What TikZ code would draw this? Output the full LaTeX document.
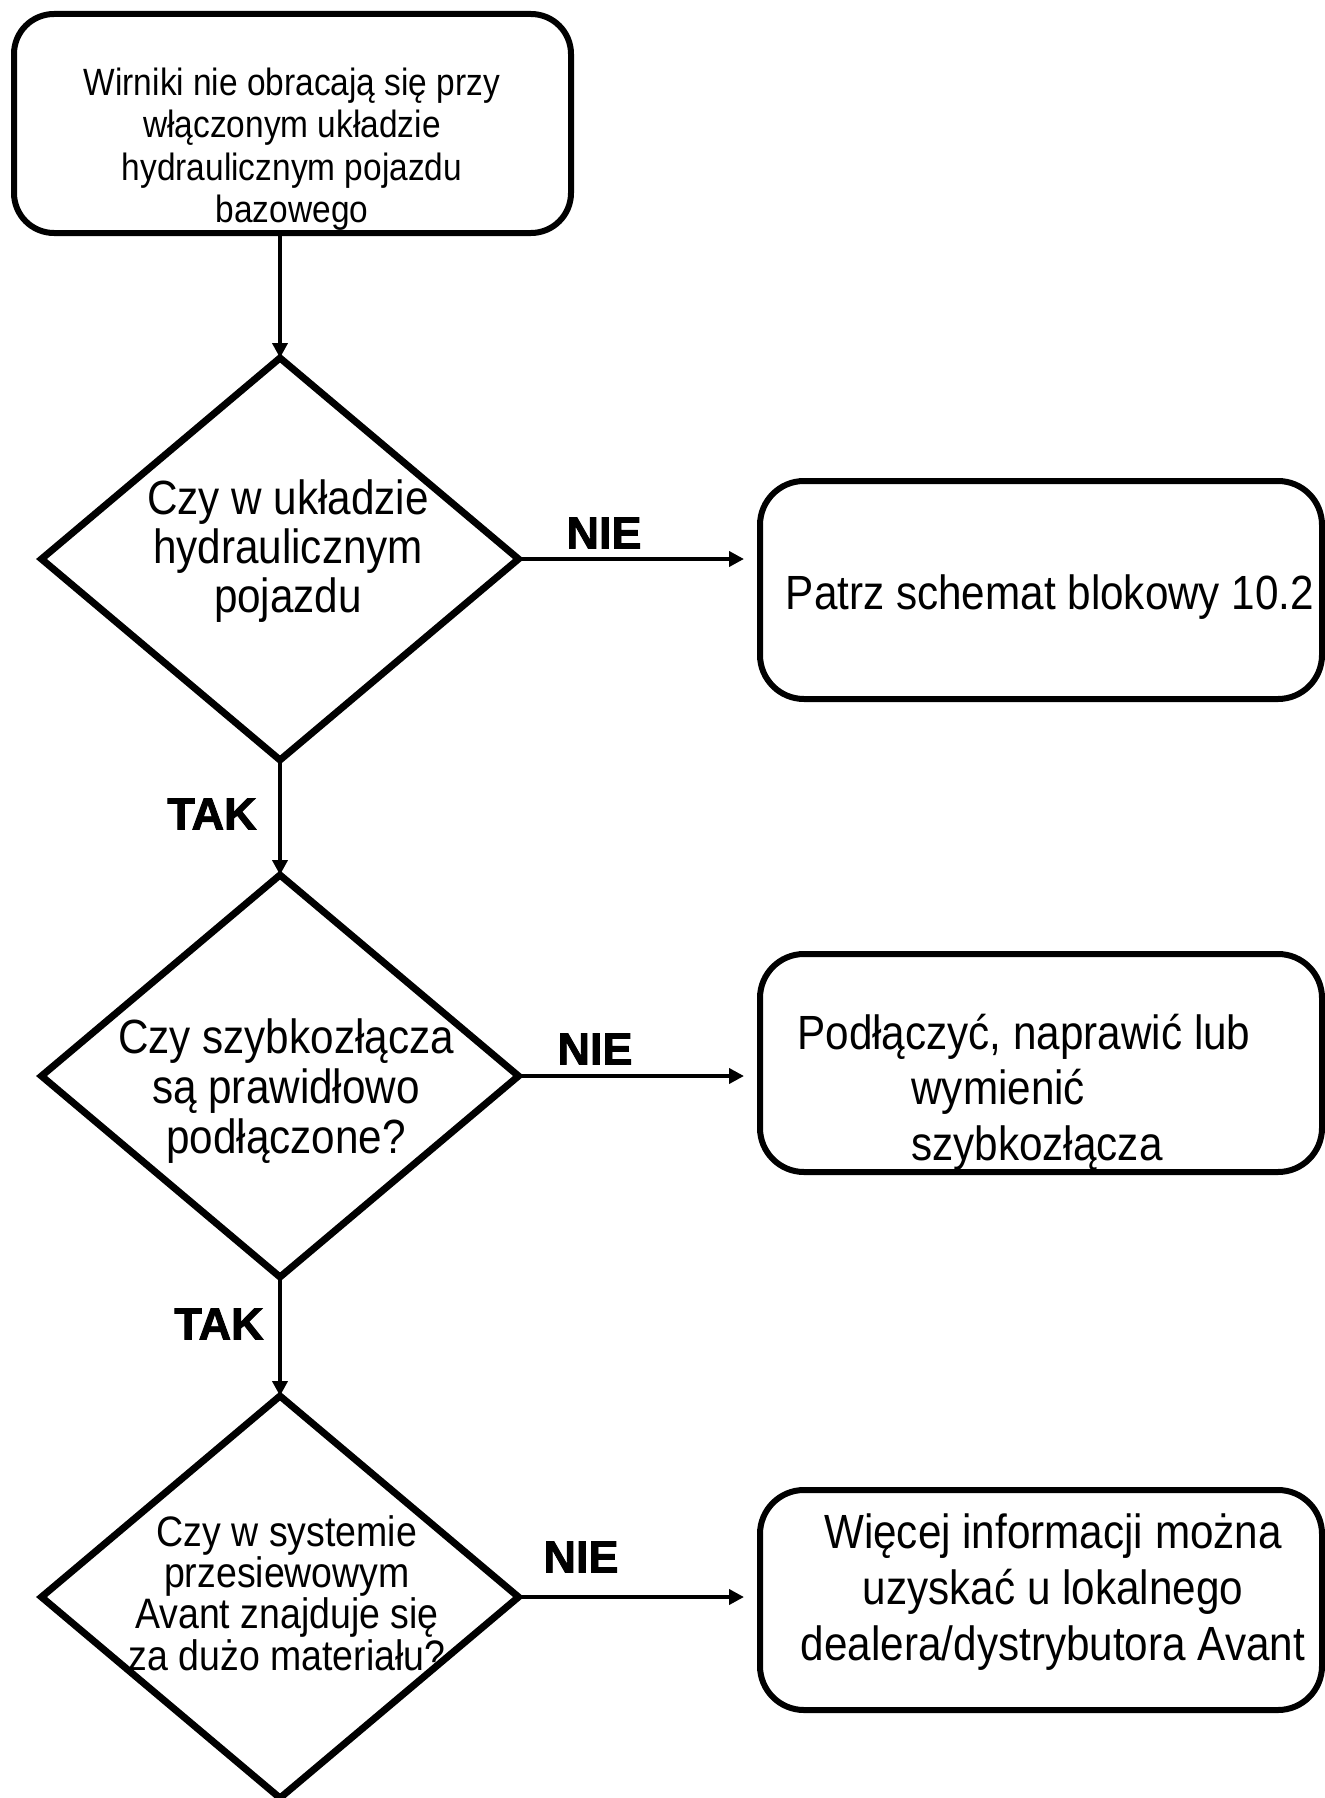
\documentclass[tikz,border=0pt]{standalone}
\usepackage{fontspec}
\setmainfont{Liberation Sans}[FakeStretch=0.88]
\newfontfamily\answerfont{Liberation Sans}[FakeBold=2]
\usetikzlibrary{shapes.geometric,arrows.meta}

\begin{document}
\begin{tikzpicture}[x=0.5pt,y=-0.5pt,
  box/.style={draw, line width=3pt, rectangle, rounded corners=22pt,
    inner sep=0pt, outer sep=0pt, minimum width=281pt, minimum height=109pt},
  decision/.style={draw, line width=3.5pt, diamond, inner sep=0pt, outer sep=0pt,
    minimum width=238.5pt, minimum height=201pt},
  txt/.style={inner sep=0pt, align=center},
  answer/.style={inner sep=0pt, font=\answerfont\bfseries\fontsize{22.5}{24}\selectfont},
  arr/.style={line width=2pt, -{Triangle[length=7.5pt,width=7.5pt]}}
]
\useasboundingbox (0,0) rectangle (1324,1798);
\fill[white] (0,0) rectangle (1324,1798);

% start box
\node[box, rounded corners=20pt, minimum width=278.5pt, minimum height=109.5pt] (start) at (292.5,123.5) {};
\node[txt, font=\fontsize{19}{21.2}\selectfont] (tstart) at (292,149)
  {Wirniki nie obracają się przy\\włączonym układzie\\hydraulicznym pojazdu\\bazowego};

% decisions
\node[decision] (d1) at (280,559) {};
\node[txt, font=\fontsize{24}{24.5}\selectfont] (td1) at (288,551)
  {Czy w układzie\\hydraulicznym\\pojazdu};

\node[decision] (d2) at (280,1076) {};
\node[txt, font=\fontsize{24}{25}\selectfont] (td2) at (286,1091)
  {Czy szybkozłącza\\są prawidłowo\\podłączone?};

\node[decision] (d3) at (280,1597) {};
\node[txt, font=\fontsize{21.3}{20.6}\selectfont] (td3) at (287,1593)
  {Czy w systemie\\przesiewowym\\Avant znajduje się\\za dużo materiału?};

% action boxes
\node[box] (b1) at (1041,590) {};
\node[txt, font=\fontsize{24}{27}\selectfont] (tb1) at (1050,597)
  {Patrz schemat blokowy 10.2};

\node[box] (b2) at (1041,1063) {};
\node[txt, anchor=west, align=left, font=\fontsize{24}{27.8}\selectfont] (tb2) at (797,1092)
  {Podłączyć, naprawić lub\\\hspace*{57pt}wymienić\\\hspace*{57pt}szybkozłącza};

\node[box, minimum height=110pt] (b3) at (1041,1600) {};
\node[txt, font=\fontsize{24}{27.8}\selectfont] (tb3) at (1053,1592)
  {Więcej informacji można\\uzyskać u lokalnego\\dealera/dystrybutora Avant};

% connectors
\draw[arr] (start.south -| d1.north) -- (d1.north);
\draw[arr] (d1.south) -- (d2.north);
\draw[arr] (d2.south) -- (d3.north);
\draw[arr, shorten >=8pt] (d1.east) -- (d1.east -| b1.west);
\draw[arr, shorten >=8pt] (d2.east) -- (d2.east -| b2.west);
\draw[arr, shorten >=8pt] (d3.east) -- (d3.east -| b3.west);

% answer labels
\node[answer] (n1) at (604,533) {NIE};
\node[answer] (n2) at (595,1049) {NIE};
\node[answer] (n3) at (581,1557) {NIE};
\node[answer] (y1) at (212,814) {TAK};
\node[answer] (y2) at (219,1324) {TAK};
\end{tikzpicture}
\end{document}
